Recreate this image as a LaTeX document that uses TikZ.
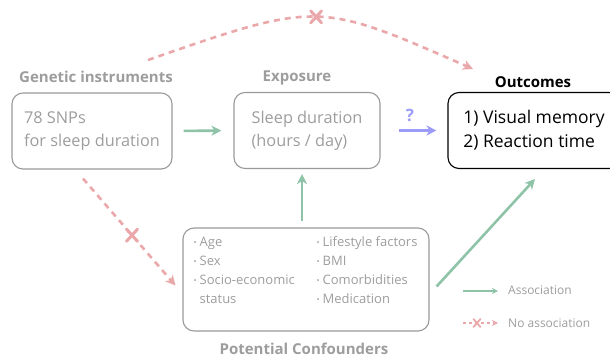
\documentclass[tikz,border=0pt]{standalone}
\usepackage{fontspec}
\setmainfont{Open Sans}
\usepackage{xcolor}
\usetikzlibrary{arrows.meta,positioning,calc}

\definecolor{labelgray}{HTML}{9D9D9D}
\definecolor{framegray}{HTML}{9A9A9A}
\definecolor{assocgreen}{HTML}{8EC3A7}
\definecolor{noassocred}{HTML}{EBA8AA}
\definecolor{querypurple}{HTML}{9B9BFA}

\newcommand{\itembul}{\raisebox{0.15ex}{\fontsize{8}{8}\selectfont•}\hspace{3pt}}

\begin{document}
\begin{tikzpicture}[x=1pt, y=-1pt,
    box/.style={rectangle, draw=framegray, line width=1.1pt, rounded corners=11pt, minimum height=76pt, align=left, text=labelgray, font=\fontsize{16.3}{23}\selectfont},
    outbox/.style={box, draw=black, text=black, font=\fontsize{17.5}{24}\selectfont},
    heading/.style={text=labelgray, font=\bfseries\fontsize{15}{18}\selectfont},
    items/.style={text=labelgray, font=\fontsize{13}{19}\selectfont, inner sep=0pt},
    legendtext/.style={text=labelgray, font=\fontsize{12}{15}\selectfont, anchor=west, inner sep=0pt},
    assoc/.style={draw=assocgreen, line width=2.6pt, -{Stealth[length=10pt,width=10pt,inset=3pt]}},
    query/.style={draw=querypurple, line width=2.6pt, -{Stealth[length=10pt,width=10pt,inset=3pt]}},
    noassoc/.style={draw=noassocred, line width=2.6pt, dash pattern=on 6pt off 5pt, -{Stealth[length=10pt,width=10pt,inset=3pt]}},
    nomark/.style={draw=noassocred, line width=3pt, line cap=round}
  ]
    \useasboundingbox (0,0) rectangle (610,359);

    % Headings
    \node[heading] (genhead) at (96,77) {Genetic instruments};
    \node[heading] (exphead) at (297,78) {Exposure};
    \node[heading, text=black] (outhead) at (533,82) {Outcomes};
    \node[heading] (confhead) at (304,349) {Potential Confounders};

    % Boxes
    \node[box, minimum width=160pt] (snps) at (92,131) {78 SNPs\\for sleep duration};
    \node[box, minimum width=146pt] (sleep) at (307,130.5) {Sleep duration\\(hours / day)};
    \node[outbox, minimum width=172pt] (outc) at (534,130.5) {1) Visual memory\\2) Reaction time};
    \node[box, minimum width=246pt, minimum height=103pt] (conf) at (306,279.5) {};
    \node[items, anchor=north west] (confitems) at ($(conf.north west)+(11,6)$) {%
      \begin{tabular}{@{}p{123pt}@{}l@{}}
        \itembul Age & \itembul Lifestyle factors\\
        \itembul Sex & \itembul BMI\\
        \itembul Socio-economic & \itembul Comorbidities\\
        \phantom{\itembul}status & \itembul Medication
      \end{tabular}};

    % Associations
    \draw[assoc, shorten <=11pt, shorten >=12pt] (snps.east) -- (sleep.west);
    \draw[query, shorten <=18pt, shorten >=11pt] (sleep.east) -- (outc.west)
      node[pos=0.44, yshift=15pt, text=querypurple, font=\bfseries\fontsize{17}{17}\selectfont] (qmark) {?};
    \draw[assoc] ($(conf.north)+(-4,-6)$) -- ($(sleep.south)+(-5,5)$);
    \draw[assoc] ($(conf.east)+(7,7)$) -- ($(outc.south)+(1,10)$);

    % No associations
    \coordinate (arcfrom) at (148,60);
    \coordinate (arcto) at (473,69);
    \draw[noassoc] (arcfrom) .. controls (318,1) .. (arcto) coordinate[pos=0.5] (topmark);
    \draw[noassoc] ($(snps.south)+(-9,9)$) -- ($(conf.west)+(-7,6)$) coordinate[pos=0.53] (leftmark);
    \foreach \m in {topmark,leftmark} {
      \draw[nomark] ($(\m)+(-5.5,-6)$) -- ($(\m)+(5.5,6)$);
      \draw[nomark] ($(\m)+(5.5,-6)$) -- ($(\m)+(-5.5,6)$);
    }

    % Legend
    \node[legendtext] (assoclbl) at (508,290) {Association};
    \node[legendtext] (noassoclbl) at (508,323) {No association};
    \coordinate (assockey) at (463,291);
    \coordinate (noassockey) at (463,323);
    \draw[assoc, line width=1.2pt, -{Stealth[length=6pt,width=6pt,inset=2pt]}, shorten >=10pt] (assockey) -- (assockey -| assoclbl.west);
    \draw[noassoc, line width=1.3pt, dash pattern=on 3pt off 3pt, -{Stealth[length=6pt,width=6pt,inset=2pt]}, shorten >=10pt] (noassockey) -- (noassockey -| noassoclbl.west)
      coordinate[pos=0.31] (keymark);
    \draw[nomark, line width=1.8pt] ($(keymark)+(-3.5,-4)$) -- ($(keymark)+(3.5,4)$);
    \draw[nomark, line width=1.8pt] ($(keymark)+(3.5,-4)$) -- ($(keymark)+(-3.5,4)$);
  \end{tikzpicture}
\end{document}
